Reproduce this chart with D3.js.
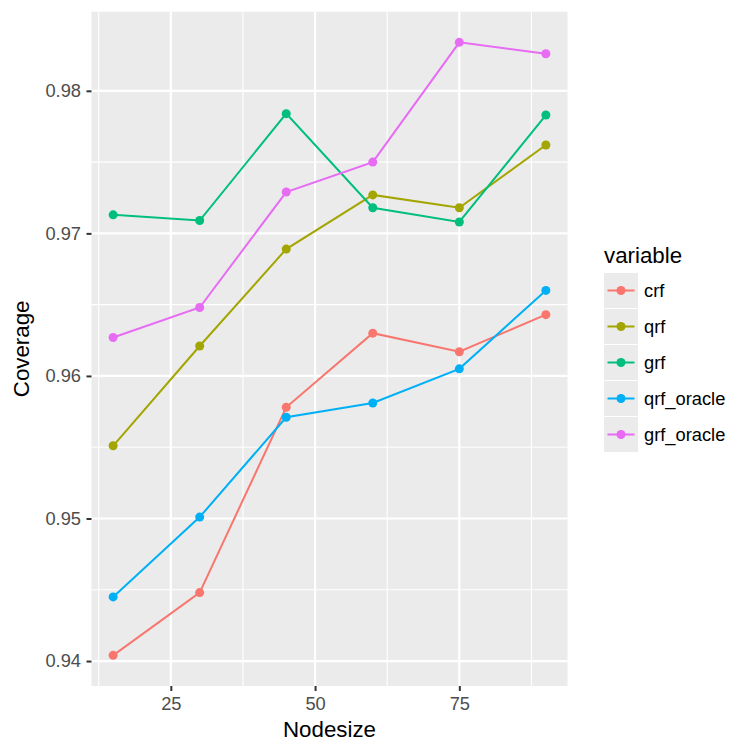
<!DOCTYPE html>
<html>
<head>
<meta charset="utf-8">
<script src="https://cdn.jsdelivr.net/npm/d3@7"></script>
<style>
  body { margin: 0; background: #fff; }
  svg text { font-family: "Liberation Sans", Arial, sans-serif; }
</style>
</head>
<body>
<div id="chart"></div>
<script>
// data
const nodesize = [15, 30, 45, 60, 75, 90];
const seriesNames = ["crf", "qrf", "grf", "qrf_oracle", "grf_oracle"];
const crf = [0.9404, 0.9448, 0.9578, 0.9630, 0.9617, 0.9643];
const qrf = [0.9551, 0.9621, 0.9689, 0.9727, 0.9718, 0.9762];
const grf = [0.9713, 0.9709, 0.9784, 0.9718, 0.9708, 0.9783];
const qrfOracle = [0.9445, 0.9501, 0.9571, 0.9581, 0.9605, 0.9660];
const grfOracle = [0.9627, 0.9648, 0.9729, 0.9750, 0.9834, 0.9826];
const xTicks = [25, 50, 75];
const yTicks = [0.94, 0.95, 0.96, 0.97, 0.98];

const seriesValues = [crf, qrf, grf, qrfOracle, grfOracle];
const colors = ["#F8766D", "#A3A500", "#00BF7D", "#00B0F6", "#E76BF3"];

const series = seriesNames.map((name, i) => ({
    name: name,
    color: colors[i],
    values: nodesize.map((x, j) => ({ x: x, y: seriesValues[i][j] }))
}));

const width = 750, height = 750;
const panel = { left: 91.5, right: 567.5, top: 11.7, bottom: 686 };

// ggplot style 5% expansion
function expand(ext) {
    const pad = (ext[1] - ext[0]) * 0.05;
    return [ext[0] - pad, ext[1] + pad];
}
const allY = seriesValues.flat();

const x = d3.scaleLinear()
    .domain(expand(d3.extent(nodesize)))
    .range([panel.left, panel.right]);

const y = d3.scaleLinear()
    .domain(expand(d3.extent(allY)))
    .range([panel.bottom, panel.top]);

const svg = d3.select("#chart")
    .append("svg")
    .attr("width", width)
    .attr("height", height);

// panel background
svg.append("rect")
    .attr("x", panel.left)
    .attr("y", panel.top)
    .attr("width", panel.right - panel.left)
    .attr("height", panel.bottom - panel.top)
    .attr("fill", "#EBEBEB");

// minor gridlines
const xMinor = [12.5, 37.5, 62.5, 87.5];
const yMinor = [0.945, 0.955, 0.965, 0.975];

const grid = svg.append("g");
grid.selectAll(".xminor")
    .data(xMinor)
    .enter()
    .append("line")
    .attr("x1", d => x(d)).attr("x2", d => x(d))
    .attr("y1", panel.top).attr("y2", panel.bottom)
    .attr("stroke", "#fff").attr("stroke-width", 1.1);
grid.selectAll(".yminor")
    .data(yMinor)
    .enter()
    .append("line")
    .attr("y1", d => y(d)).attr("y2", d => y(d))
    .attr("x1", panel.left).attr("x2", panel.right)
    .attr("stroke", "#fff").attr("stroke-width", 1.1);
grid.selectAll(".xmajor")
    .data(xTicks)
    .enter()
    .append("line")
    .attr("x1", d => x(d)).attr("x2", d => x(d))
    .attr("y1", panel.top).attr("y2", panel.bottom)
    .attr("stroke", "#fff").attr("stroke-width", 2.2);
grid.selectAll(".ymajor")
    .data(yTicks)
    .enter()
    .append("line")
    .attr("y1", d => y(d)).attr("y2", d => y(d))
    .attr("x1", panel.left).attr("x2", panel.right)
    .attr("stroke", "#fff").attr("stroke-width", 2.2);

// axes
const xAxis = svg.append("g")
    .attr("transform", `translate(0,${panel.bottom})`)
    .call(d3.axisBottom(x).tickValues(xTicks).tickSize(5).tickPadding(6).tickFormat(d3.format("d")));
const yAxis = svg.append("g")
    .attr("transform", `translate(${panel.left},0)`)
    .call(d3.axisLeft(y).tickValues(yTicks).tickSize(5).tickPadding(5.5).tickFormat(d3.format(".2f")));

[xAxis, yAxis].forEach(ax => {
    ax.select(".domain").remove();
    ax.selectAll(".tick line").attr("stroke", "#333").attr("stroke-width", 2);
    ax.selectAll(".tick text")
        .attr("fill", "#4D4D4D")
        .style("font-size", "18.3px");
});

// lines and points
const line = d3.line()
    .x(d => x(d.x))
    .y(d => y(d.y));

const groups = svg.selectAll(".series")
    .data(series)
    .enter()
    .append("g")
    .attr("class", "series");

groups.append("path")
    .attr("d", d => line(d.values))
    .attr("fill", "none")
    .attr("stroke", d => d.color)
    .attr("stroke-width", 2);

groups.each(function (s) {
    d3.select(this).selectAll("circle")
        .data(s.values)
        .enter()
        .append("circle")
        .attr("cx", d => x(d.x))
        .attr("cy", d => y(d.y))
        .attr("r", 4.5)
        .attr("fill", s.color);
});

// axis titles
svg.append("text")
    .attr("x", (panel.left + panel.right) / 2)
    .attr("y", 737)
    .attr("text-anchor", "middle")
    .style("font-size", "22.3px")
    .text("Nodesize");

svg.append("text")
    .attr("transform", `translate(29,${(panel.top + panel.bottom) / 2}) rotate(-90)`)
    .attr("text-anchor", "middle")
    .style("font-size", "22.3px")
    .text("Coverage");

// legend
const legend = svg.append("g")
    .attr("transform", "translate(604,273)");

legend.append("text")
    .attr("x", 0)
    .attr("y", -10)
    .style("font-size", "22.3px")
    .text("variable");

const key = legend.selectAll(".key")
    .data(series)
    .enter()
    .append("g")
    .attr("class", "key")
    .attr("transform", (d, i) => `translate(0,${i * 36})`);

key.append("rect")
    .attr("width", 34)
    .attr("height", 35)
    .attr("fill", "#EBEBEB");
key.append("line")
    .attr("x1", 3.5).attr("x2", 30.5)
    .attr("y1", 17.5).attr("y2", 17.5)
    .attr("stroke", d => d.color)
    .attr("stroke-width", 2);
key.append("circle")
    .attr("cx", 17)
    .attr("cy", 17.5)
    .attr("r", 4.5)
    .attr("fill", d => d.color);
key.append("text")
    .attr("x", 40)
    .attr("y", 17.5)
    .attr("dy", "0.35em")
    .style("font-size", "18.3px")
    .text(d => d.name);
</script>
</body>
</html>
